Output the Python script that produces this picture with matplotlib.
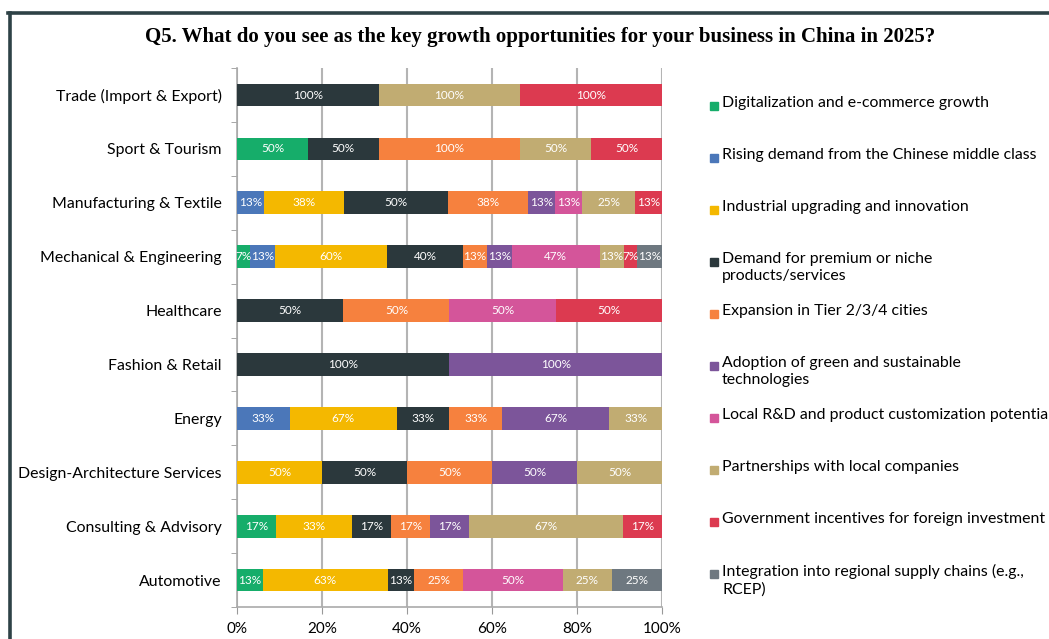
import numpy as np
import matplotlib.pyplot as plt
from matplotlib.lines import Line2D
from matplotlib.patches import Rectangle

# sectors, top to bottom
sectors = ["Trade (Import & Export)", "Sport & Tourism", "Manufacturing & Textile",
           "Mechanical & Engineering", "Healthcare", "Fashion & Retail", "Energy",
           "Design-Architecture Services", "Consulting & Advisory", "Automotive"]

opportunities = ["Digitalization and e-commerce growth",
                 "Rising demand from the Chinese middle class",
                 "Industrial upgrading and innovation",
                 "Demand for premium or niche\nproducts/services",
                 "Expansion in Tier 2/3/4 cities",
                 "Adoption of green and sustainable\ntechnologies",
                 "Local R&D and product customization potential",
                 "Partnerships with local companies",
                 "Government incentives for foreign investment",
                 "Integration into regional supply chains (e.g.,\nRCEP)"]

# percent answering per sector, one list per opportunity (same order as sectors)
digitalization = [0, 50, 0, 7, 0, 0, 0, 0, 17, 13]
middle_class   = [0, 0, 13, 13, 0, 0, 33, 0, 0, 0]
industrial     = [0, 0, 38, 60, 0, 0, 67, 50, 33, 63]
premium_niche  = [100, 50, 50, 40, 50, 100, 33, 50, 17, 13]
tier_cities    = [0, 100, 38, 13, 50, 0, 33, 50, 17, 25]
green_tech     = [0, 0, 13, 13, 0, 100, 67, 50, 17, 0]
local_rnd      = [0, 0, 13, 47, 50, 0, 0, 0, 0, 50]
partnerships   = [100, 50, 25, 13, 0, 0, 33, 50, 67, 25]
gov_incentives = [100, 50, 13, 7, 50, 0, 0, 0, 17, 0]
supply_chains  = [0, 0, 0, 13, 0, 0, 0, 0, 0, 25]

colors = ["#16ad6a", "#4b77b9", "#f4b800", "#2b383c", "#f6813e",
          "#7c559a", "#d4559a", "#c1ac72", "#dc3a50", "#6e7880"]

series = np.array([digitalization, middle_class, industrial, premium_niche,
                   tier_cities, green_tech, local_rnd, partnerships,
                   gov_incentives, supply_chains], dtype=float)
totals = series.sum(axis=0)
shares = series / totals * 100

fig = plt.figure(figsize=(10.49, 6.39), dpi=100)
ax = fig.add_axes([0.226, 0.050, 0.405, 0.8435])

ypos = np.arange(len(sectors))
left = np.zeros(len(sectors))
for i in range(len(opportunities)):
    ax.barh(ypos, shares[i], left=left, height=0.42, color=colors[i], zorder=3)
    for j in range(len(sectors)):
        if series[i, j] > 0:
            ax.text(left[j] + shares[i, j] / 2, ypos[j], f"{int(series[i, j])}%",
                    ha="center", va="center", color="white", fontsize=8.5,
                    family="Lato", zorder=4)
    left += shares[i]

ax.set_xlim(0, 100)
ax.set_ylim(len(sectors) - 0.5, -0.5)
ax.set_xticks(np.arange(0, 101, 20))
ax.set_xticklabels([f"{v}%" for v in range(0, 101, 20)], family="Lato", fontsize=11)
ax.set_yticks(ypos)
ax.set_yticklabels(sectors, family="Lato", fontsize=11.4)
ax.set_yticks(np.arange(-0.5, len(sectors)), minor=True)
ax.tick_params(axis="y", which="major", length=0, pad=11)
ax.tick_params(axis="y", which="minor", length=4, color="#999999")
ax.tick_params(axis="x", length=5, color="#999999", pad=6)
ax.grid(axis="x", color="#b4b4b4", linewidth=1.5, zorder=0)
for s in ["top", "right"]:
    ax.spines[s].set_visible(False)
ax.spines["left"].set_color("#aaaaaa")
ax.spines["bottom"].set_color("#aaaaaa")
ax.spines["left"].set_linewidth(1.2)
ax.spines["bottom"].set_linewidth(1.2)

fig.text(0.515, 0.942, "Q5. What do you see as the key growth opportunities for your business in China in 2025?",
         ha="center", va="center", family="Liberation Serif", fontweight="bold", fontsize=15)

# legend on the right, one entry every 52 px
for i, label in enumerate(opportunities):
    ytop = 1 - (96 + 52 * i) / 639
    fig.patches.append(Rectangle((710 / 1049, ytop - 14 / 639), 8 / 1049, 8 / 639,
                                 transform=fig.transFigure, color=colors[i]))
    fig.text(722 / 1049, ytop, label, ha="left", va="top", family="Lato",
             fontsize=11.4, linespacing=1.3)

# dark frame along the top and left edges
fig.add_artist(Line2D([8 / 1049, 1], [1 - 13 / 639] * 2, transform=fig.transFigure,
                      color="#2e4246", linewidth=2.6))
fig.add_artist(Line2D([10 / 1049] * 2, [0, 1 - 13 / 639], transform=fig.transFigure,
                      color="#2e4246", linewidth=2.6))

fig.savefig("out.png", dpi=100)
